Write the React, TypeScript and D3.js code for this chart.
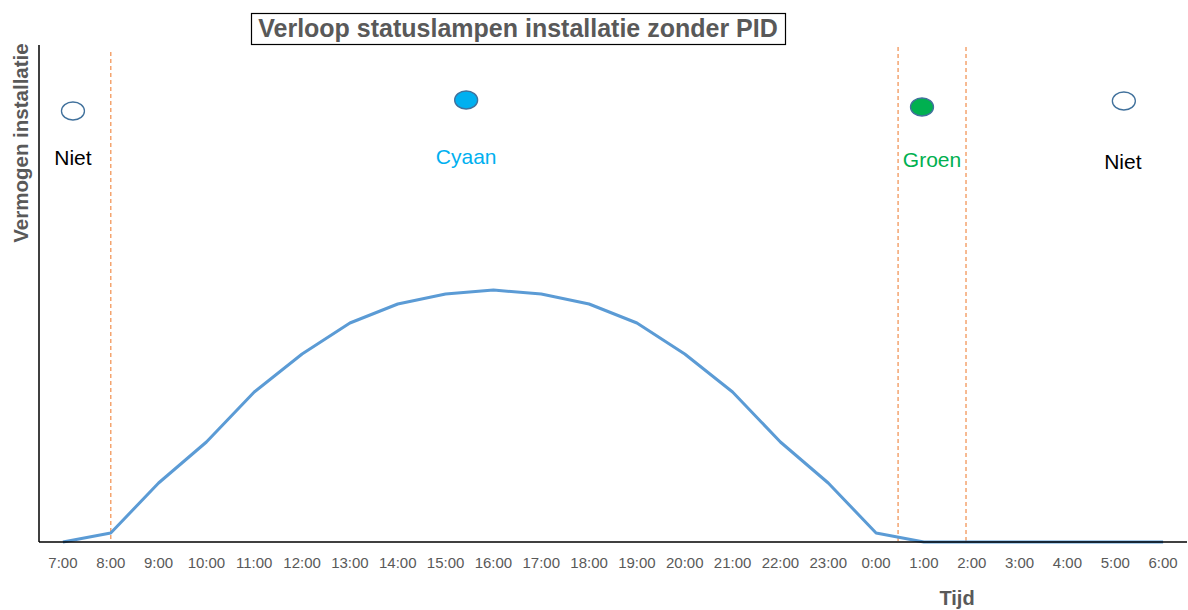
import React from "react";
import * as d3 from "d3";

const hours = ["7:00","8:00","9:00","10:00","11:00","12:00","13:00","14:00","15:00","16:00","17:00","18:00","19:00","20:00","21:00","22:00","23:00","0:00","1:00","2:00","3:00","4:00","5:00","6:00"];
const power = [0, 9, 59, 100, 150, 188, 219, 238, 248, 252, 248, 238, 219, 188, 150, 100, 59, 9, 0, 0, 0, 0, 0, 0];
// vertical dashed markers, in hour-index units (fractional)
const dashedLines = [1, 17.46, 18.88];
const dashTops = [52, 47, 47];
// status lamps
const lampPos = [0.21, 8.43, 17.96, 22.18];
const lampLevel = [431, 442, 435, 441];
const lampNames = ["Niet", "Cyaan", "Groen", "Niet"];
const lampFill = ["#ffffff", "#00b0f0", "#00b050", "#ffffff"];
const lampTextColor = ["#000000", "#00b0f0", "#00b050", "#000000"];
const labelOffsetX = [0, 0, 10, -1];
const labelDy = [54, 64, 60, 68];

export default function App() {
  const W = 1188, H = 610;
  const x0 = 39, x1 = 1187, yBase = 542, yTop = 45;
  const step = (x1 - x0) / hours.length;
  const xi = d3.scaleLinear().domain([0, hours.length - 1]).range([x0 + step / 2, x1 - step / 2]);
  const y = d3.scaleLinear().domain([0, 497]).range([yBase, yTop]);
  const line = d3.line<number>().x((_, i) => xi(i)).y((d) => y(d));
  const font = "'Liberation Sans', Arial, sans-serif";
  return (
    <svg width={W} height={H} style={{ position: "absolute", left: 0, top: 0, background: "#fff" }} fontFamily={font}>
      {dashedLines.map((d, i) => (
        <line key={i} x1={xi(d)} x2={xi(d)} y1={dashTops[i]} y2={yBase} stroke="#f4a46f" strokeWidth={1.5} strokeDasharray="4,3" />
      ))}
      <path d={line(power) || ""} fill="none" stroke="#5b9bd5" strokeWidth={3} strokeLinejoin="round" />
      <line x1={x0} x2={x0} y1={yTop} y2={yBase} stroke="#000" strokeWidth={1.5} />
      <line x1={x0} x2={x1} y1={yBase} y2={yBase} stroke="#000" strokeWidth={1.5} />
      {hours.map((h, i) => (
        <text key={h} x={xi(i)} y={568} textAnchor="middle" fontSize={15} fill="#595959">{h}</text>
      ))}
      {lampPos.map((p, i) => (
        <g key={i}>
          <ellipse cx={xi(p)} cy={y(lampLevel[i])} rx={11.5} ry={9} fill={lampFill[i]} stroke="#41719c" strokeWidth={1.3} />
          <text x={xi(p) + labelOffsetX[i]} y={y(lampLevel[i]) + labelDy[i]} textAnchor="middle" fontSize={21} fill={lampTextColor[i]}>{lampNames[i]}</text>
        </g>
      ))}
      <rect x={251.5} y={13.5} width={534} height={31} fill="#fff" stroke="#000" strokeWidth={1.2} />
      <text x={518} y={37} textAnchor="middle" fontSize={25} fontWeight="bold" fill="#595959">Verloop statuslampen installatie zonder PID</text>
      <text transform="translate(28,143) rotate(-90)" textAnchor="middle" fontSize={20.5} fontWeight="bold" fill="#595959">Vermogen installatie</text>
      <text x={957} y={605} textAnchor="middle" fontSize={20} fontWeight="bold" fill="#595959">Tijd</text>
    </svg>
  );
}
